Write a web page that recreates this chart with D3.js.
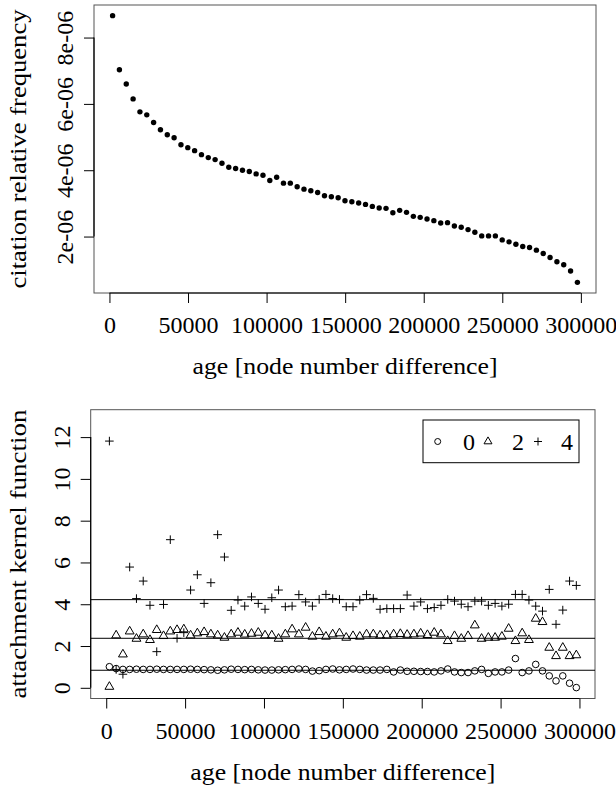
<!DOCTYPE html>
<html><head><meta charset="utf-8">
<script src="https://cdn.jsdelivr.net/npm/d3@7"></script>
<style>
body{margin:0;background:#fff}
svg{display:block;background:#fff}
</style>
</head><body>
<svg id="c" width="616" height="786"></svg>
<script>
// ---------- data ----------
const agesTop = [2000, 6350, 10700, 15050, 19400, 23750, 28100, 32450, 36800, 41150, 45500, 49850, 54200, 58550, 62900, 67250, 71600, 75950, 80300, 84650, 89000, 93350, 97700, 102050, 106400, 110750, 115100, 119450, 123800, 128150, 132500, 136850, 141200, 145550, 149900, 154250, 158600, 162950, 167300, 171650, 176000, 180350, 184700, 189050, 193400, 197750, 202100, 206450, 210800, 215150, 219500, 223850, 228200, 232550, 236900, 241250, 245600, 249950, 254300, 258650, 263000, 267350, 271700, 276050, 280400, 284750, 289100, 293450, 297800];
const citationFreq = [8.66e-6, 7.03e-6, 6.60e-6, 6.15e-6, 5.76e-6, 5.67e-6, 5.44e-6, 5.22e-6, 5.07e-6, 4.98e-6, 4.77e-6, 4.68e-6, 4.59e-6, 4.47e-6, 4.38e-6, 4.32e-6, 4.21e-6, 4.09e-6, 4.05e-6, 4.00e-6, 3.96e-6, 3.89e-6, 3.85e-6, 3.69e-6, 3.79e-6, 3.61e-6, 3.61e-6, 3.50e-6, 3.43e-6, 3.38e-6, 3.33e-6, 3.23e-6, 3.20e-6, 3.17e-6, 3.08e-6, 3.05e-6, 3.01e-6, 2.97e-6, 2.91e-6, 2.86e-6, 2.85e-6, 2.72e-6, 2.79e-6, 2.73e-6, 2.61e-6, 2.58e-6, 2.53e-6, 2.48e-6, 2.41e-6, 2.42e-6, 2.32e-6, 2.28e-6, 2.21e-6, 2.13e-6, 2.02e-6, 2.02e-6, 2.02e-6, 1.90e-6, 1.84e-6, 1.77e-6, 1.70e-6, 1.67e-6, 1.59e-6, 1.49e-6, 1.37e-6, 1.24e-6, 1.15e-6, 0.96e-6, 0.62e-6];

const agesBottom = [2000, 6290, 10580, 14870, 19160, 23450, 27740, 32030, 36320, 40610, 44900, 49190, 53480, 57770, 62060, 66350, 70640, 74930, 79220, 83510, 87800, 92090, 96380, 100670, 104960, 109250, 113540, 117830, 122120, 126410, 130700, 134990, 139280, 143570, 147860, 152150, 156440, 160730, 165020, 169310, 173600, 177890, 182180, 186470, 190760, 195050, 199340, 203630, 207920, 212210, 216500, 220790, 225080, 229370, 233660, 237950, 242240, 246530, 250820, 255110, 259400, 263690, 267980, 272270, 276560, 280850, 285140, 289430, 293720, 298010];
const kernel0 = [1.01, 0.92, 0.88, 0.88, 0.89, 0.88, 0.88, 0.89, 0.88, 0.88, 0.88, 0.88, 0.89, 0.88, 0.87, 0.86, 0.84, 0.86, 0.89, 0.88, 0.87, 0.88, 0.86,
  0.85, 0.85, 0.86, 0.87, 0.88, 0.90, 0.88, 0.80, 0.82, 0.88, 0.90, 0.86, 0.88, 0.90, 0.88, 0.85, 0.85, 0.85, 0.88, 0.76, 0.85, 0.79, 0.79, 0.78, 0.78,
  0.76, 0.81, 0.90, 0.76, 0.73, 0.73, 0.81, 0.88, 0.69, 0.76, 0.76, 0.85, 1.40, 0.73, 0.81, 1.12, 0.81, 0.57, 0.33, 0.57, 0.22, 0.01];
const kernel2 = [0.05, 2.51, 1.60, 2.70, 2.35, 2.56, 2.29, 2.77, 2.48, 2.70, 2.77, 2.80, 2.51, 2.61, 2.67, 2.56, 2.51, 2.40, 2.56, 2.64, 2.55, 2.59, 2.64,
  2.51, 2.51, 2.35, 2.56, 2.80, 2.56, 2.88, 2.45, 2.67, 2.45, 2.56, 2.61, 2.40, 2.48, 2.45, 2.56, 2.56, 2.51, 2.51, 2.56, 2.58, 2.54, 2.56, 2.60, 2.53,
  2.64, 2.56, 2.24, 2.48, 2.35, 2.48, 2.99, 2.35, 2.40, 2.40, 2.45, 2.83, 2.24, 2.61, 2.29, 3.31, 3.15, 1.92, 1.52, 1.92, 1.52, 1.56];
const kernel4 = [11.81, 0.88, 0.65, 5.78, 4.27, 5.11, 3.95, 1.73, 3.99, 7.09, 2.37, 2.64, 4.68, 5.41, 4.04, 5.03, 7.33, 6.26, 3.71, 4.20, 3.91, 4.35, 4.04,
  3.76, 4.31, 4.68, 3.88, 3.91, 4.46, 4.11, 3.91, 4.23, 4.47, 4.27, 4.23, 3.88, 3.88, 4.20, 4.46, 4.28, 3.76, 3.79, 3.79, 3.79, 4.44, 3.91, 4.11, 3.79,
  3.84, 3.95, 4.23, 4.15, 4.00, 3.88, 4.15, 4.15, 3.95, 4.04, 3.91, 4.00, 4.47, 4.47, 4.20, 3.91, 3.67, 4.71, 3.04, 3.72, 5.11, 4.90];
const kernelMeans = [0.84, 2.37, 4.22];

const xTicks = [0, 50000, 100000, 150000, 200000, 250000, 300000];
const topYTicks = [2e-6, 4e-6, 6e-6, 8e-6];
const topYLabels = ["2e-06", "4e-06", "6e-06", "8e-06"];
const bottomYTicks = [0, 2, 4, 6, 8, 10, 12];
const bottomYLim = [0, 12.8];
const legendLabels = ["0", "2", "4"];
const xTitle = "age [node number difference]";
const topYTitle = "citation relative frequency";
const bottomYTitle = "attachment kernel function";

// ---------- helpers ----------
const svg = d3.select("#c");
const FS = 24;
const FONT = "'Liberation Serif', 'DejaVu Serif', serif";
const expand = e => { const d = (e[1] - e[0]) * 0.04; return [e[0] - d, e[1] + d]; };
const circlePath = r => `M${-r},0A${r},${r} 0 1,0 ${r},0A${r},${r} 0 1,0 ${-r},0Z`;
const triPath = r => `M0,${-r}L${r*0.866},${r/2}L${-r*0.866},${r/2}Z`;
const plusPath = r => `M${-r},0H${r}M0,${-r}V${r}`;
const styleText = sel => sel.style("font-family", FONT).style("font-size", FS + "px").attr("fill", "#000");

function drawXAxis(g, x, yBox, labelY, titleY) {
  const ax = g.append("g").attr("transform", `translate(0,${yBox})`)
    .call(d3.axisBottom(x).tickValues(xTicks).tickSize(10).tickFormat(d3.format("d")));
  ax.attr("font-family", null).attr("font-size", null);
  ax.select(".domain").remove();
  ax.selectAll(".tick line").attr("stroke", "#000").attr("stroke-width", 1);
  styleText(ax.selectAll(".tick text").attr("y", labelY - yBox).attr("dy", null));
  ax.append("line").attr("x1", x(xTicks[0])).attr("x2", x(xTicks[xTicks.length - 1]))
    .attr("y1", 0).attr("y2", 0).attr("stroke", "#000").attr("stroke-width", 1.2);
  styleText(g.append("text").attr("x", (x.range()[0] + x.range()[1]) / 2).attr("y", titleY)
    .attr("text-anchor", "middle")
    .attr("textLength", 305).attr("lengthAdjust", "spacingAndGlyphs").text(xTitle));
}

function drawYAxis(g, y, ticks, fmt, xBox, labelX, title, titleLen) {
  const ax = g.append("g").attr("transform", `translate(${xBox},0)`)
    .call(d3.axisLeft(y).tickValues(ticks).tickSize(10).tickFormat(fmt));
  ax.attr("font-family", null).attr("font-size", null);
  ax.select(".domain").remove();
  ax.selectAll(".tick line").attr("stroke", "#000").attr("stroke-width", 1);
  styleText(ax.selectAll(".tick text").attr("x", null).attr("dy", null)
    .attr("text-anchor", "middle")
    .attr("transform", `translate(${labelX - xBox},0) rotate(-90)`));
  ax.append("line").attr("x1", 0).attr("x2", 0)
    .attr("y1", y(ticks[0])).attr("y2", y(ticks[ticks.length - 1]))
    .attr("stroke", "#000").attr("stroke-width", 1.2);
  const yc = (y.range()[0] + y.range()[1]) / 2;
  styleText(g.append("text").attr("transform", `translate(26,${yc}) rotate(-90)`)
    .attr("text-anchor", "middle")
    .attr("textLength", titleLen).attr("lengthAdjust", "spacingAndGlyphs").text(title));
}

// ---------- top chart ----------
const T = {L: 94, R: 596, T: 5, B: 293};
const xTop = d3.scaleLinear().domain(expand(d3.extent(agesTop))).range([T.L, T.R]);
const yTop = d3.scaleLinear().domain(expand(d3.extent(citationFreq))).range([T.B, T.T]);
const gTop = svg.append("g");
gTop.append("rect").attr("x", T.L).attr("y", T.T).attr("width", T.R - T.L).attr("height", T.B - T.T)
  .attr("fill", "none").attr("stroke", "#555").attr("stroke-width", 1);
gTop.append("g").selectAll("circle").data(agesTop.map((a, i) => [a, citationFreq[i]]))
  .join("circle").attr("cx", d => xTop(d[0])).attr("cy", d => yTop(d[1])).attr("r", 2.7).attr("fill", "#000");
drawXAxis(gTop, xTop, T.B, 333, 374);
drawYAxis(gTop, yTop, topYTicks, (d, i) => topYLabels[i], T.L, 72.5, topYTitle, 279);

// ---------- bottom chart ----------
const Bt = {L: 90.7, R: 595, T: 409.7, B: 698.5};
const xBot = d3.scaleLinear().domain(expand(d3.extent(agesBottom))).range([Bt.L, Bt.R]);
const yBot = d3.scaleLinear().domain(expand(bottomYLim)).range([Bt.B, Bt.T]);
const gBot = svg.append("g");
gBot.append("rect").attr("x", Bt.L).attr("y", Bt.T).attr("width", Bt.R - Bt.L).attr("height", Bt.B - Bt.T)
  .attr("fill", "none").attr("stroke", "#555").attr("stroke-width", 1);

const series = [
  {vals: kernel0, path: circlePath(3.3)},
  {vals: kernel2, path: triPath(5.1)},
  {vals: kernel4, path: plusPath(4.3)}
];
series.forEach(s => {
  gBot.append("g").selectAll("path").data(agesBottom.map((a, i) => [a, s.vals[i]]))
    .join("path").attr("d", s.path)
    .attr("transform", d => `translate(${xBot(d[0])},${yBot(d[1])})`)
    .attr("fill", "none").attr("stroke", "#000").attr("stroke-width", 1);
});
gBot.append("g").selectAll("line").data(kernelMeans).join("line")
  .attr("x1", Bt.L).attr("x2", Bt.R).attr("y1", d => yBot(d)).attr("y2", d => yBot(d))
  .attr("stroke", "#000").attr("stroke-width", 1);

drawXAxis(gBot, xBot, Bt.B, 739, 780);
drawYAxis(gBot, yBot, bottomYTicks, d3.format("d"), Bt.L, 70, bottomYTitle, 289);

// legend
const lg = gBot.append("g");
lg.append("rect").attr("x", 423).attr("y", 420).attr("width", 156).attr("height", 42.7)
  .attr("fill", "#fff").attr("stroke", "#000").attr("stroke-width", 1);
const legSym = [circlePath(3), triPath(4.6), plusPath(4)];
const legSymX = [437.7, 488, 538];
const legTxtX = [469, 518, 567];
legendLabels.forEach((lab, i) => {
  lg.append("path").attr("d", legSym[i]).attr("transform", `translate(${legSymX[i]},441.5)`)
    .attr("fill", "none").attr("stroke", "#000").attr("stroke-width", 1);
  styleText(lg.append("text").attr("x", legTxtX[i]).attr("y", 449.7).attr("text-anchor", "middle").text(lab));
});
</script>
</body></html>
